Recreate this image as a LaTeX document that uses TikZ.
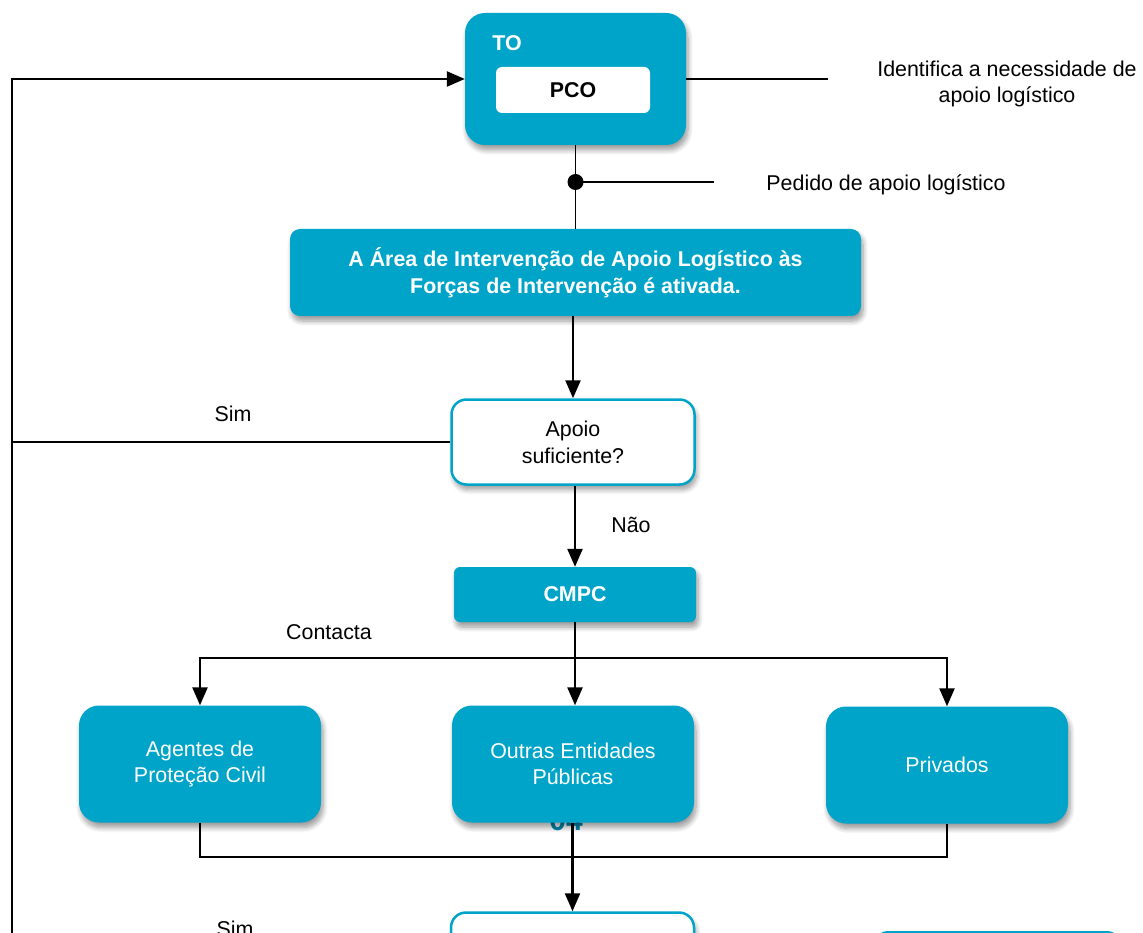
\documentclass[tikz,border=0pt]{standalone}
\usepackage{fontspec}
\setmainfont{Liberation Sans}
\usetikzlibrary{arrows.meta,shadows.blur}
\definecolor{pccyan}{RGB}{0,164,200}
\definecolor{pcdark}{RGB}{0,135,175}

\begin{document}
\begin{tikzpicture}[x=1pt,y=-1pt,
  every node/.style={font=\fontsize{21.4}{26}\selectfont, inner sep=0pt},
  boxshadow/.style={blur shadow={shadow xshift=2pt, shadow yshift=-5pt,
      shadow blur radius=5pt, shadow opacity=40, shadow blur steps=8}},
  fillbox/.style={fill=pccyan, text=white, align=center, boxshadow},
  linebox/.style={fill=white, draw=pccyan, line width=2.5pt, align=center, boxshadow},
  label/.style={align=center, text=black},
  flow/.style={line width=2.4pt, -{Triangle[length=18pt,width=15pt]}},
  link/.style={line width=2.4pt},
  thinlink/.style={line width=1.3pt}
]
\useasboundingbox (0,0) rectangle (1143,933);
\clip (0,0) rectangle (1143,933);

% operations theatre with the command post inside
\node[fillbox, minimum width=221pt, minimum height=132pt, rounded corners=20pt] (to) at (575.5,79) {};
\node[text=white, font=\fontsize{21.4}{26}\selectfont\bfseries] (tolabel) at (507,43) {TO};
\node[fill=white, minimum width=154pt, minimum height=46pt, rounded corners=6pt,
      font=\fontsize{21.4}{26}\selectfont\bfseries] (pco) at (573,90) {PCO};

\coordinate (idend) at (828,79);
\draw[thinlink] (to.east) -- (idend);
\node[label] (ident) at (1007,84) {Identifica a necessidade de\\apoio logístico};

% activation of the logistics area
\node[fillbox, minimum width=571pt, minimum height=87pt, rounded corners=10pt,
      font=\fontsize{21.4}{26.5}\selectfont\bfseries] (area) at (575.5,272.5)
  {A Área de Intervenção de Apoio Logístico às\\Forças de Intervenção é ativada.};
\draw[thinlink] (to.south -| area.north) -- (area.north);
\node[circle, fill=black, minimum size=16pt] (dot) at (575.5,182) {};
\coordinate (pedend) at (714,182);
\draw[thinlink] (dot.center) -- (pedend);
\node[label] (pedido) at (886,185) {Pedido de apoio logístico};

% decision
\node[linebox, minimum width=243pt, minimum height=85pt, rounded corners=15pt,
      font=\fontsize{21.4}{27}\selectfont] (apoio) at (573,442) {Apoio\\suficiente?};
\draw[flow] (apoio.north |- area.south) -- (apoio.north);

% return loop on the left
\coordinate (lb) at (12,945);
\draw[link] (apoio.west) -- (apoio.west -| lb);
\draw[flow] (lb) |- (to.west);
\node[label] (sim1) at (233,414) {Sim};

% municipal command
\node[fillbox, minimum width=242pt, minimum height=55pt, rounded corners=6pt,
      font=\fontsize{21.4}{26}\selectfont\bfseries] (cmpc) at (575,594.5) {CMPC};
\draw[flow] (cmpc.north |- apoio.south) -- (cmpc.north);
\node[label] (nao) at (631,525) {Não};
\node[label] (contacta) at (329,632) {Contacta};

% page number partly hidden behind the central box
\node[text=pcdark, font=\fontsize{30}{30}\selectfont\bfseries, anchor=base] (pagenum) at (566,830) {04};

% contacted entities
\node[fillbox, minimum width=242pt, minimum height=117pt, rounded corners=20pt] (agentes) at (200,764) {Agentes de\\Proteção Civil};
\node[fillbox, minimum width=242pt, minimum height=117pt, rounded corners=20pt] (outras) at (573,764) {Outras Entidades\\Públicas};
\node[fillbox, minimum width=242pt, minimum height=117pt, rounded corners=20pt] (privados) at (947,765) {Privados};

\coordinate (br) at (575,658);
\draw[flow] (cmpc.south) -- (cmpc.south |- outras.north);
\draw[flow] (br) -| (agentes.north);
\draw[flow] (br) -| (privados.north);

\coordinate (join) at (200,857);
\draw[thinlink] (agentes.south) -- (join) -| (privados.south);

% next step
\node[linebox, minimum width=243pt, minimum height=85pt, rounded corners=15pt] (next) at (572.5,955) {};
\draw[flow] (next.north |- outras.south) -- (next.north);
\node[label] (sim2) at (235,929) {Sim};
\node[fillbox, minimum width=241pt, minimum height=60pt, rounded corners=10pt] (nextright) at (997.5,961) {};

\end{tikzpicture}
\end{document}
